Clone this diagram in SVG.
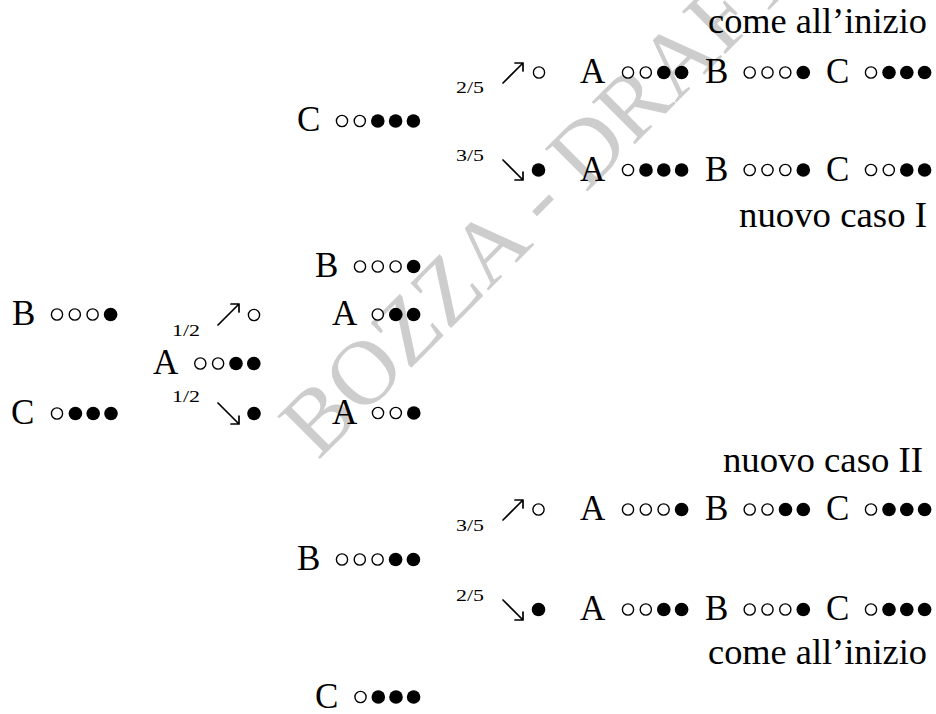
<svg xmlns="http://www.w3.org/2000/svg" width="936" height="714" viewBox="0 0 936 714">
<style>
text{font-family:"Liberation Serif","DejaVu Serif",serif;fill:#000}
.L{font-size:35px}
.fr{font-size:17.5px}
.wm{font-size:92px;fill:#cdcdcd}
.o{fill:#fff;stroke:#000;stroke-width:1.4}
.f{fill:#000}
.ar{fill:none;stroke:#000;stroke-width:1.7;stroke-linecap:round;stroke-linejoin:round}
</style>
<rect width="936" height="714" fill="#fff"/>
<text class="wm" transform="translate(318,461) rotate(-45)">BOZZA - DRAFT</text>

<g id="connectors">
<path class="ar" d="M503,83 L523,63 M515,63 L523,63 L523,71"/>
<path class="ar" d="M503,160 L523,180 M515,180 L523,180 L523,172"/>
<path class="ar" d="M218,325 L239,304 M231,304 L239,304 L239,312"/>
<path class="ar" d="M218,403 L239,424 M231,424 L239,424 L239,416"/>
<path class="ar" d="M503,520 L523,500 M515,500 L523,500 L523,508"/>
<path class="ar" d="M503,600 L523,620 M515,620 L523,620 L523,612"/>
</g>

<g id="left-B"><text class="L" x="12" y="325">B</text>
<circle class="o" cx="57" cy="314.5" r="5.6"/><circle class="o" cx="74.8" cy="314.5" r="5.6"/><circle class="o" cx="92.6" cy="314.5" r="5.6"/><circle class="f" cx="110.6" cy="314.5" r="6.8"/></g>
<g id="left-C"><text class="L" x="11" y="423.5">C</text>
<circle class="o" cx="57" cy="413.5" r="5.6"/><circle class="f" cx="75.4" cy="413.5" r="6.8"/><circle class="f" cx="93.2" cy="413.5" r="6.8"/><circle class="f" cx="111" cy="413.5" r="6.8"/></g>
<g id="root-A"><text class="L" x="153" y="374">A</text>
<circle class="o" cx="200.3" cy="363.5" r="5.6"/><circle class="o" cx="218.1" cy="363.5" r="5.6"/><circle class="f" cx="236" cy="363.5" r="6.8"/><circle class="f" cx="253.8" cy="363.5" r="6.8"/></g>
<g id="p-half-up"><text class="fr" x="172" y="336" textLength="28" lengthAdjust="spacingAndGlyphs">1/2</text>
<circle class="o" cx="254" cy="315" r="5.6"/></g>
<g id="p-half-down"><text class="fr" x="172" y="401.5" textLength="28" lengthAdjust="spacingAndGlyphs">1/2</text>
<circle class="f" cx="254" cy="413.5" r="6.8"/></g>

<g id="mid-C1"><text class="L" x="297" y="131">C</text>
<circle class="o" cx="342" cy="121" r="5.6"/><circle class="o" cx="359.8" cy="121" r="5.6"/><circle class="f" cx="377.8" cy="121" r="6.8"/><circle class="f" cx="395.6" cy="121" r="6.8"/><circle class="f" cx="413.4" cy="121" r="6.8"/></g>
<g id="mid-B1"><text class="L" x="315" y="277">B</text>
<circle class="o" cx="360" cy="266.5" r="5.6"/><circle class="o" cx="377.8" cy="266.5" r="5.6"/><circle class="o" cx="395.6" cy="266.5" r="5.6"/><circle class="f" cx="413.6" cy="266.5" r="6.8"/></g>
<g id="mid-A1"><text class="L" x="332" y="325">A</text>
<circle class="o" cx="377.8" cy="314.5" r="5.6"/><circle class="f" cx="395.8" cy="314.5" r="6.8"/><circle class="f" cx="413.6" cy="314.5" r="6.8"/></g>
<g id="mid-A2"><text class="L" x="332" y="423.5">A</text>
<circle class="o" cx="378" cy="413" r="5.6"/><circle class="o" cx="395.8" cy="413" r="5.6"/><circle class="f" cx="413.8" cy="413" r="6.8"/></g>
<g id="mid-B2"><text class="L" x="297" y="570">B</text>
<circle class="o" cx="342" cy="559.5" r="5.6"/><circle class="o" cx="359.8" cy="559.5" r="5.6"/><circle class="o" cx="377.6" cy="559.5" r="5.6"/><circle class="f" cx="395.6" cy="559.5" r="6.8"/><circle class="f" cx="413.4" cy="559.5" r="6.8"/></g>
<g id="mid-C2"><text class="L" x="315" y="707.5">C</text>
<circle class="o" cx="360.5" cy="697" r="5.6"/><circle class="f" cx="378.3" cy="697" r="6.8"/><circle class="f" cx="396" cy="697" r="6.8"/><circle class="f" cx="413.6" cy="697" r="6.8"/></g>

<g id="label-top"><text class="L" x="927" y="33" text-anchor="end" textLength="219" lengthAdjust="spacingAndGlyphs">come all’inizio</text></g>
<g id="row-r2"><text class="fr" x="456" y="93" textLength="28" lengthAdjust="spacingAndGlyphs">2/5</text>
<circle class="o" cx="539" cy="72.5" r="5.6"/>
<text class="L" x="580" y="83">A</text>
<circle class="o" cx="628" cy="72.5" r="5.6"/><circle class="o" cx="645.8" cy="72.5" r="5.6"/><circle class="f" cx="663.8" cy="72.5" r="6.8"/><circle class="f" cx="681.6" cy="72.5" r="6.8"/>
<text class="L" x="705" y="83">B</text>
<circle class="o" cx="749.7" cy="72.5" r="5.6"/><circle class="o" cx="767.5" cy="72.5" r="5.6"/><circle class="o" cx="785.3" cy="72.5" r="5.6"/><circle class="f" cx="803.3" cy="72.5" r="6.8"/>
<text class="L" x="826" y="83">C</text>
<circle class="o" cx="871" cy="72.5" r="5.6"/><circle class="f" cx="889" cy="72.5" r="6.8"/><circle class="f" cx="906.8" cy="72.5" r="6.8"/><circle class="f" cx="924.6" cy="72.5" r="6.8"/></g>
<g id="row-r3"><text class="fr" x="456" y="160.5" textLength="28" lengthAdjust="spacingAndGlyphs">3/5</text>
<circle class="f" cx="538.5" cy="170" r="6.8"/>
<text class="L" x="580" y="180.5">A</text>
<circle class="o" cx="628" cy="170" r="5.6"/><circle class="f" cx="646" cy="170" r="6.8"/><circle class="f" cx="663.8" cy="170" r="6.8"/><circle class="f" cx="681.6" cy="170" r="6.8"/>
<text class="L" x="705" y="180.5">B</text>
<circle class="o" cx="749.7" cy="170" r="5.6"/><circle class="o" cx="767.5" cy="170" r="5.6"/><circle class="o" cx="785.3" cy="170" r="5.6"/><circle class="f" cx="803.3" cy="170" r="6.8"/>
<text class="L" x="826" y="180.5">C</text>
<circle class="o" cx="871" cy="170" r="5.6"/><circle class="o" cx="888.8" cy="170" r="5.6"/><circle class="f" cx="906.8" cy="170" r="6.8"/><circle class="f" cx="924.6" cy="170" r="6.8"/></g>
<g id="label-I"><text class="L" x="927" y="227" text-anchor="end" textLength="188" lengthAdjust="spacingAndGlyphs">nuovo caso I</text></g>

<g id="label-II"><text class="L" x="923" y="472" text-anchor="end" textLength="200" lengthAdjust="spacingAndGlyphs">nuovo caso II</text></g>
<g id="row-r10"><text class="fr" x="456" y="531" textLength="28" lengthAdjust="spacingAndGlyphs">3/5</text>
<circle class="o" cx="538.5" cy="509.5" r="5.6"/>
<text class="L" x="580" y="520">A</text>
<circle class="o" cx="628" cy="509.5" r="5.6"/><circle class="o" cx="645.8" cy="509.5" r="5.6"/><circle class="o" cx="663.6" cy="509.5" r="5.6"/><circle class="f" cx="681.6" cy="509.5" r="6.8"/>
<text class="L" x="705" y="520">B</text>
<circle class="o" cx="749.7" cy="509.5" r="5.6"/><circle class="o" cx="767.5" cy="509.5" r="5.6"/><circle class="f" cx="785.5" cy="509.5" r="6.8"/><circle class="f" cx="803.3" cy="509.5" r="6.8"/>
<text class="L" x="826" y="520">C</text>
<circle class="o" cx="871" cy="509.5" r="5.6"/><circle class="f" cx="889" cy="509.5" r="6.8"/><circle class="f" cx="906.8" cy="509.5" r="6.8"/><circle class="f" cx="924.6" cy="509.5" r="6.8"/></g>
<g id="row-r12"><text class="fr" x="456" y="601" textLength="28" lengthAdjust="spacingAndGlyphs">2/5</text>
<circle class="f" cx="538.5" cy="609.5" r="6.8"/>
<text class="L" x="580" y="620">A</text>
<circle class="o" cx="628" cy="609.5" r="5.6"/><circle class="o" cx="645.8" cy="609.5" r="5.6"/><circle class="f" cx="663.8" cy="609.5" r="6.8"/><circle class="f" cx="681.6" cy="609.5" r="6.8"/>
<text class="L" x="705" y="620">B</text>
<circle class="o" cx="749.7" cy="609.5" r="5.6"/><circle class="o" cx="767.5" cy="609.5" r="5.6"/><circle class="o" cx="785.3" cy="609.5" r="5.6"/><circle class="f" cx="803.3" cy="609.5" r="6.8"/>
<text class="L" x="826" y="620">C</text>
<circle class="o" cx="871" cy="609.5" r="5.6"/><circle class="f" cx="889" cy="609.5" r="6.8"/><circle class="f" cx="906.8" cy="609.5" r="6.8"/><circle class="f" cx="924.6" cy="609.5" r="6.8"/></g>
<g id="label-bottom"><text class="L" x="927" y="664" text-anchor="end" textLength="219" lengthAdjust="spacingAndGlyphs">come all’inizio</text></g>
</svg>
